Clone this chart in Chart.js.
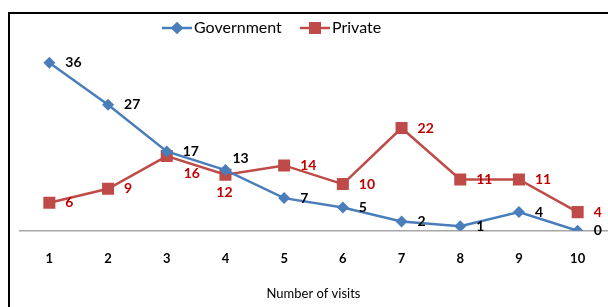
<!DOCTYPE html>
<html>
<head>
<meta charset="utf-8">
<script src="https://cdn.jsdelivr.net/npm/chart.js@4"></script>
<style>
  html, body { margin: 0; padding: 0; background: #fff; overflow: hidden; }
  #wrap { position: relative; width: 608px; height: 307px; }
  #frame { position: absolute; left: 8px; top: 12px; width: 640px; height: 340px; border-left: 2px solid #000; border-top: 2px solid #000; }
  #chart { position: absolute; left: 0; top: 0; }
</style>
</head>
<body>
<div id="wrap">
  <div id="frame"></div>
  <canvas id="chart" width="608" height="307"></canvas>
</div>
<script>
const visits = ["1", "2", "3", "4", "5", "6", "7", "8", "9", "10"];
const government = [36, 27, 17, 13, 7, 5, 2, 1, 4, 0];
const privateHosp = [6, 9, 16, 12, 14, 10, 22, 11, 11, 4];

const BLUE = "#4a7ebb";
const RED = "#be4b48";
const FONT = "Lato, 'Open Sans', sans-serif";

// label placement per series: default right of the point, a few moved
const labelPlace = {
  0: { 3: "upright" },
  1: { 2: "downright", 3: "down" },
};

const dataLabels = {
  id: "dataLabels",
  afterDatasetsDraw(chart) {
    const ctx = chart.ctx;
    ctx.save();
    ctx.font = "bold 14px " + FONT;
    ctx.textBaseline = "middle";
    chart.data.datasets.forEach((ds, i) => {
      const meta = chart.getDatasetMeta(i);
      ctx.fillStyle = ds.labelColor;
      meta.data.forEach((pt, j) => {
        const place = (labelPlace[i] || {})[j] || "right";
        let x = pt.x + 16, y = pt.y;
        ctx.textAlign = "left";
        if (place === "down") { x = pt.x - 1; y = pt.y + 18; ctx.textAlign = "center"; }
        if (place === "downright") { x = pt.x + 17; y = pt.y + 17; }
        if (place === "upright") { x = pt.x + 7; y = pt.y - 12; }
        ctx.fillText(String(ds.data[j]), x, y);
      });
    });
    ctx.restore();
  },
};

const lineLegend = {
  id: "lineLegend",
  afterDraw(chart) {
    const ctx = chart.ctx;
    const y = 28;
    const items = [
      { x: 162, label: "Government", color: BLUE, style: "rectRot", r: 6 },
      { x: 300, label: "Private", color: RED, style: "rect", r: 8.5 },
    ];
    ctx.save();
    items.forEach((it) => {
      ctx.strokeStyle = it.color;
      ctx.lineWidth = 2.5;
      ctx.beginPath();
      ctx.moveTo(it.x, y);
      ctx.lineTo(it.x + 30, y);
      ctx.stroke();
      ctx.fillStyle = it.color;
      Chart.helpers.drawPoint(ctx, { pointStyle: it.style, radius: it.r, borderWidth: 0 }, it.x + 15, y);
      ctx.fill();
      ctx.fillStyle = "#000";
      ctx.font = "16px " + FONT;
      ctx.textBaseline = "middle";
      ctx.textAlign = "left";
      ctx.fillText(it.label, it.x + 32, y);
    });
    ctx.restore();
  },
};

new Chart(document.getElementById("chart"), {
  type: "line",
  data: {
    labels: visits,
    datasets: [
      {
        label: "Government",
        data: government,
        borderColor: BLUE,
        backgroundColor: BLUE,
        borderWidth: 2.5,
        pointStyle: "rectRot",
        pointRadius: 6,
        pointBorderWidth: 0,
        tension: 0,
        labelColor: "#000",
      },
      {
        label: "Private",
        data: privateHosp,
        borderColor: RED,
        backgroundColor: RED,
        borderWidth: 2.5,
        pointStyle: "rect",
        pointRadius: 8.5,
        pointBorderWidth: 0,
        tension: 0,
        labelColor: "#c00000",
      },
    ],
  },
  options: {
    responsive: false,
    animation: false,
    layout: { autoPadding: false, padding: { left: 20, right: 1, top: 44, bottom: 0 } },
    plugins: { legend: { display: false }, tooltip: { enabled: false } },
    scales: {
      x: {
        offset: true,
        grid: { display: false, drawTicks: false },
        border: { color: "#a6a6a6", width: 1.5 },
        ticks: { color: "#000", padding: 20, font: { family: FONT, size: 13, weight: "bold" } },
        title: { display: true, text: "Number of visits", color: "#000", padding: { top: 0, bottom: 5 }, font: { family: FONT, size: 13 } },
        afterFit(scale) { scale.paddingLeft = 0; scale.paddingRight = 0; },
      },
      y: { display: false, min: 0, max: 40 },
    },
  },
  plugins: [dataLabels, lineLegend],
});
</script>
</body>
</html>
